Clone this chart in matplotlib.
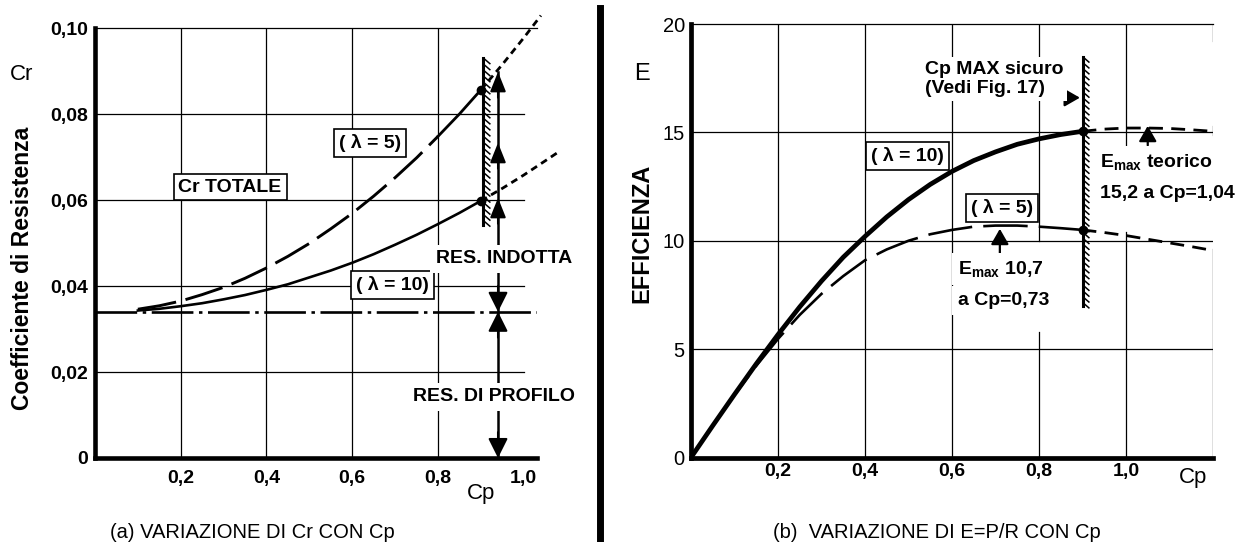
import numpy as np
import matplotlib
matplotlib.use('Agg')
import matplotlib.pyplot as plt
from matplotlib.lines import Line2D
from matplotlib.collections import LineCollection

plt.rcParams['font.family'] = ['Liberation Sans', 'DejaVu Sans']
plt.rcParams['lines.scale_dashes'] = False
plt.rcParams['mathtext.fontset'] = 'custom'
plt.rcParams['mathtext.rm'] = 'Liberation Sans:bold'
plt.rcParams['mathtext.it'] = 'Liberation Sans:bold'
plt.rcParams['mathtext.bf'] = 'Liberation Sans:bold'

# --- (a) Cr in funzione di Cp
cp_a = [0.10, 0.15, 0.20, 0.25, 0.30, 0.35, 0.40, 0.45, 0.50,
        0.55, 0.60, 0.65, 0.70, 0.75, 0.80, 0.85, 0.90]
cr_l5 = [0.0346, 0.0354, 0.0365, 0.0380, 0.0397, 0.0418, 0.0442, 0.0469, 0.0499,
         0.0533, 0.0569, 0.0609, 0.0652, 0.0698, 0.0748, 0.0800, 0.0856]
cr_l10 = [0.0343, 0.0347, 0.0353, 0.0360, 0.0369, 0.0379, 0.0391, 0.0404, 0.0420,
          0.0436, 0.0454, 0.0474, 0.0496, 0.0519, 0.0544, 0.0570, 0.0598]
cp_a_ext5 = [0.90, 0.95, 1.00, 1.04]
cr_l5_ext = [0.0856, 0.0915, 0.0977, 0.1029]
cp_a_ext10 = [0.90, 0.95, 1.00, 1.05, 1.08]
cr_l10_ext = [0.0598, 0.0627, 0.0658, 0.0691, 0.0711]
cp_profilo = [0.0, 1.03]
cr_profilo = [0.034, 0.034]
cp_sicuro_a = 0.906
cp_freccia_a = 0.94
cr_frecce_su = [0.0898, 0.0733, 0.0605]

# --- (b) E in funzione di Cp
cp_b = [0.00, 0.05, 0.10, 0.15, 0.20, 0.25, 0.30, 0.35, 0.40, 0.45,
        0.50, 0.55, 0.60, 0.65, 0.70, 0.75, 0.80, 0.85, 0.90]
e_l10 = [0, 1.47, 2.91, 4.32, 5.67, 6.95, 8.14, 9.24, 10.2, 11.1,
         11.9, 12.6, 13.2, 13.7, 14.1, 14.45, 14.7, 14.9, 15.05]
e_l5 = [0, 1.46, 2.89, 4.23, 5.47, 6.58, 7.55, 8.37, 9.1, 9.6,
        10.0, 10.3, 10.5, 10.65, 10.7, 10.7, 10.65, 10.58, 10.5]
cp_b_ext = [0.90, 0.95, 1.00, 1.05, 1.10, 1.15, 1.20]
e_l10_ext = [15.05, 15.15, 15.2, 15.2, 15.18, 15.12, 15.05]
e_l5_ext = [10.5, 10.38, 10.24, 10.07, 9.9, 9.73, 9.55]
cp_sicuro_b = 0.90
emax5 = (0.71, 10.55)
emax10 = (1.05, 15.3)

ytick_a = [0, 0.02, 0.04, 0.06, 0.08, 0.10]
ytick_a_lab = ['0', '0,02', '0,04', '0,06', '0,08', '0,10']
xtick = [0.2, 0.4, 0.6, 0.8, 1.0]
xtick_lab = ['0,2', '0,4', '0,6', '0,8', '1,0']
ytick_b = [0, 5, 10, 15, 20]
ytick_b_lab = ['0', '5', '10', '15', '20']

W, H = 1238, 542
fig = plt.figure(figsize=(W / 100, H / 100), dpi=100)


def fx(px):
    return px / W


def fy(py):
    return 1 - py / H


def stile_assi(ax, lw):
    ax.spines['right'].set_visible(False)
    ax.spines['top'].set_linewidth(0.9)
    ax.spines['left'].set_linewidth(lw)
    ax.spines['bottom'].set_linewidth(lw)


def vgrid(ax, x, y0, y1, gaps=()):
    pts = [y0] + [g for gap in gaps for g in gap] + [y1]
    for a, b in zip(pts[::2], pts[1::2]):
        ax.plot([x, x], [a, b], color='k', lw=0.9, zorder=1)


def parete(ax, x, y0, y1, dx, dy, passo):
    ax.plot([x, x], [y0, y1], color='k', lw=2.2, zorder=4, clip_on=False)
    ys = np.arange(y1, y0, -passo)
    segs = [[(x, y), (x + dx, y - dy)] for y in ys]
    ax.add_collection(LineCollection(segs, colors='k', linewidths=1.1, zorder=4))


def freccia(ax, xy, xytext, hl=0.6, hw=0.25, lw=1.5):
    ax.annotate('', xy=xy, xytext=xytext, annotation_clip=False,
                arrowprops=dict(arrowstyle='-|>,head_length=%s,head_width=%s' % (hl, hw),
                                color='k', lw=lw, shrinkA=0, shrinkB=0, mutation_scale=20),
                zorder=4)


box = dict(boxstyle='square,pad=0.25', fc='white', ec='k', lw=1.2)
bianco = dict(boxstyle='square,pad=0.3', fc='white', ec='none')
ftxt = dict(fontsize=14, fontweight='bold', zorder=6)

# ================= (a)
ax = fig.add_axes([fx(95), fy(458), fx(536.6 - 95), (458 - 28) / H])
ax.set_xlim(0, 1.03)
ax.set_ylim(0, 0.10)
stile_assi(ax, 3.3)
for y in ytick_a[1:-1]:
    ax.plot([0, 1.0], [y, y], color='k', lw=0.9, zorder=1)
for x in xtick[:-1]:
    vgrid(ax, x, 0, 0.10)
ax.set_xticks(xtick)
ax.set_xticklabels(xtick_lab, fontsize=14, fontweight='bold')
ax.set_yticks(ytick_a)
ax.set_yticklabels(ytick_a_lab, fontsize=14, fontweight='bold')
ax.tick_params(axis='x', length=0, pad=9)
ax.tick_params(axis='y', length=0, pad=5)

ax.plot(cp_profilo, cr_profilo, color='k', lw=1.9, dashes=(30, 4, 2.5, 4), zorder=3)
cpa = np.array(cp_a)
m = cpa <= 0.80
ax.plot(cpa[m], np.array(cr_l5)[m], color='k', lw=2.1, dashes=(28, 7), zorder=3)
ax.plot(cpa[cpa >= 0.80], np.array(cr_l5)[cpa >= 0.80], color='k', lw=2.0, zorder=3)
ax.plot(cp_a, cr_l10, color='k', lw=1.9, zorder=3)
ax.plot(cp_a_ext5, cr_l5_ext, color='k', lw=2.0, dashes=(5, 3.5), zorder=3, clip_on=False)
ax.plot(cp_a_ext10, cr_l10_ext, color='k', lw=2.0, dashes=(5, 3.5), zorder=3, clip_on=False)
ax.plot([cp_a[-1]] * 2, [cr_l5[-1], cr_l10[-1]], 'o', color='k', ms=6, zorder=5)
parete(ax, cp_sicuro_a, 0.0542, 0.093, 0.0163, 0.0014, 0.0014)

# frecce verticali
ax.plot([cp_freccia_a] * 2, [0, cr_frecce_su[0]], color='k', lw=1.8, zorder=3)
for c in cr_frecce_su:
    freccia(ax, (cp_freccia_a, c), (cp_freccia_a, c - 0.006), hw=0.24)
freccia(ax, (cp_freccia_a, cr_profilo[0]), (cp_freccia_a, cr_profilo[0] + 0.006), hw=0.3)
freccia(ax, (cp_freccia_a, cr_profilo[0]), (cp_freccia_a, cr_profilo[0] - 0.006), hw=0.3)
freccia(ax, (cp_freccia_a, 0), (cp_freccia_a, 0.006), hw=0.3)

ax.text(0.315, 0.0630, 'Cr TOTALE', ha='center', va='center', bbox=box, **ftxt)
ax.text(0.641, 0.0733, '( λ = 5)', ha='center', va='center', bbox=box, **ftxt)
ax.text(0.694, 0.0402, '( λ = 10)', ha='center', va='center', bbox=box, **ftxt)
ax.text(0.954, 0.0463, 'RES. INDOTTA', ha='center', va='center', bbox=bianco, **ftxt)
ax.text(0.931, 0.0142, 'RES. DI PROFILO', ha='center', va='center', bbox=bianco, **ftxt)

fig.text(fx(22), fy(75), 'Cr', fontsize=16, ha='center', va='center')
fig.text(fx(23), fy(268), 'Coefficiente di Resistenza', fontsize=16.5, fontweight='bold',
         rotation=90, ha='center', va='center')
fig.text(fx(481), fy(493), 'Cp', fontsize=16, ha='center', va='center')
fig.text(fx(252), fy(532), '(a) VARIAZIONE DI Cr CON Cp', fontsize=14.5,
         ha='center', va='center')

# ================= (b)
ax = fig.add_axes([fx(691), fy(457.5), fx(1213 - 691), (457.5 - 24) / H])
ax.set_xlim(0, 1.2)
ax.set_ylim(0, 20)
stile_assi(ax, 3.4)
for y in ytick_b[1:-1]:
    ax.plot([0, 1.2], [y, y], color='k', lw=0.9, zorder=1)
vgrid(ax, 0.2, 0, 20)
vgrid(ax, 0.4, 0, 20)
vgrid(ax, 0.6, 0, 20)
vgrid(ax, 0.8, 0, 20, gaps=[(5.8, 10.0)])
vgrid(ax, 1.0, 0, 20, gaps=[(10.4, 14.3)])
vgrid(ax, 1.2, 0, 20, gaps=[(9.6, 14.9), (15.3, 19.2)])
ax.set_xticks(xtick)
ax.set_xticklabels(xtick_lab, fontsize=14, fontweight='bold')
ax.set_yticks(ytick_b)
ax.set_yticklabels(ytick_b_lab, fontsize=14.5)
ax.tick_params(axis='x', length=0, pad=4)
ax.tick_params(axis='y', length=0, pad=4.5)

ax.plot(cp_b, e_l5, color='k', lw=1.9, dashes=(32, 8), zorder=3)
ax.plot(cp_b, e_l10, color='k', lw=3.4, zorder=3, solid_capstyle='round')
ax.plot(cp_b_ext, e_l10_ext, color='k', lw=2.0, dashes=(10, 6), zorder=3)
ax.plot(cp_b_ext, e_l5_ext, color='k', lw=2.0, dashes=(10, 6), zorder=3)
ax.plot([cp_b[-1]] * 2, [e_l10[-1], e_l5[-1]], 'o', color='k', ms=6, zorder=5)
parete(ax, cp_sicuro_b, 7.0, 18.5, 0.016, 0.28, 0.27)

freccia(ax, emax5, (emax5[0], emax5[1] - 1.25), hl=0.47, hw=0.27, lw=1.6)
freccia(ax, emax10, (emax10[0], emax10[1] - 0.9), hl=0.47, hw=0.27, lw=1.6)
freccia(ax, (cp_sicuro_b - 0.006, 16.6), (0.848, 16.6), hl=0.47, hw=0.27, lw=1.6)

ax.text(0.498, 13.92, '( λ = 10)', ha='center', va='center', bbox=box, **ftxt)
ax.text(0.714, 11.52, '( λ = 5)', ha='center', va='center', bbox=box, **ftxt)
ax.text(0.538, 17.45, 'Cp MAX sicuro\n(Vedi Fig. 17)', ha='left', va='center',
        linespacing=1.15, bbox=dict(boxstyle='square,pad=0.2', fc='white', ec='none'), **ftxt)
ax.text(0.614, 8.71, r'E$_{\mathrm{max}}$ 10,7', ha='left', va='center', bbox=bianco, **ftxt)
ax.text(0.614, 7.24, 'a Cp=0,73', ha='left', va='center', bbox=bianco, **ftxt)
ax.text(0.94, 13.64, r'E$_{\mathrm{max}}$ teorico', ha='left', va='center', bbox=bianco, **ftxt)
ax.text(0.94, 12.17, '15,2 a Cp=1,04', ha='left', va='center', bbox=bianco, **ftxt)

fig.text(fx(642), fy(74), 'E', fontsize=17, ha='center', va='center')
fig.text(fx(642), fy(233), 'EFFICIENZA', fontsize=17, fontweight='bold',
         rotation=90, ha='center', va='center')
fig.text(fx(1193), fy(477), 'Cp', fontsize=16, ha='center', va='center')
fig.text(fx(937), fy(532), '(b)  VARIAZIONE DI E=P/R CON Cp', fontsize=14.5,
         ha='center', va='center')

# separatore
fig.add_artist(Line2D([fx(599.5)] * 2, [0, fy(8)], transform=fig.transFigure, lw=5, color='k'))

fig.savefig('out.png', dpi=100)
